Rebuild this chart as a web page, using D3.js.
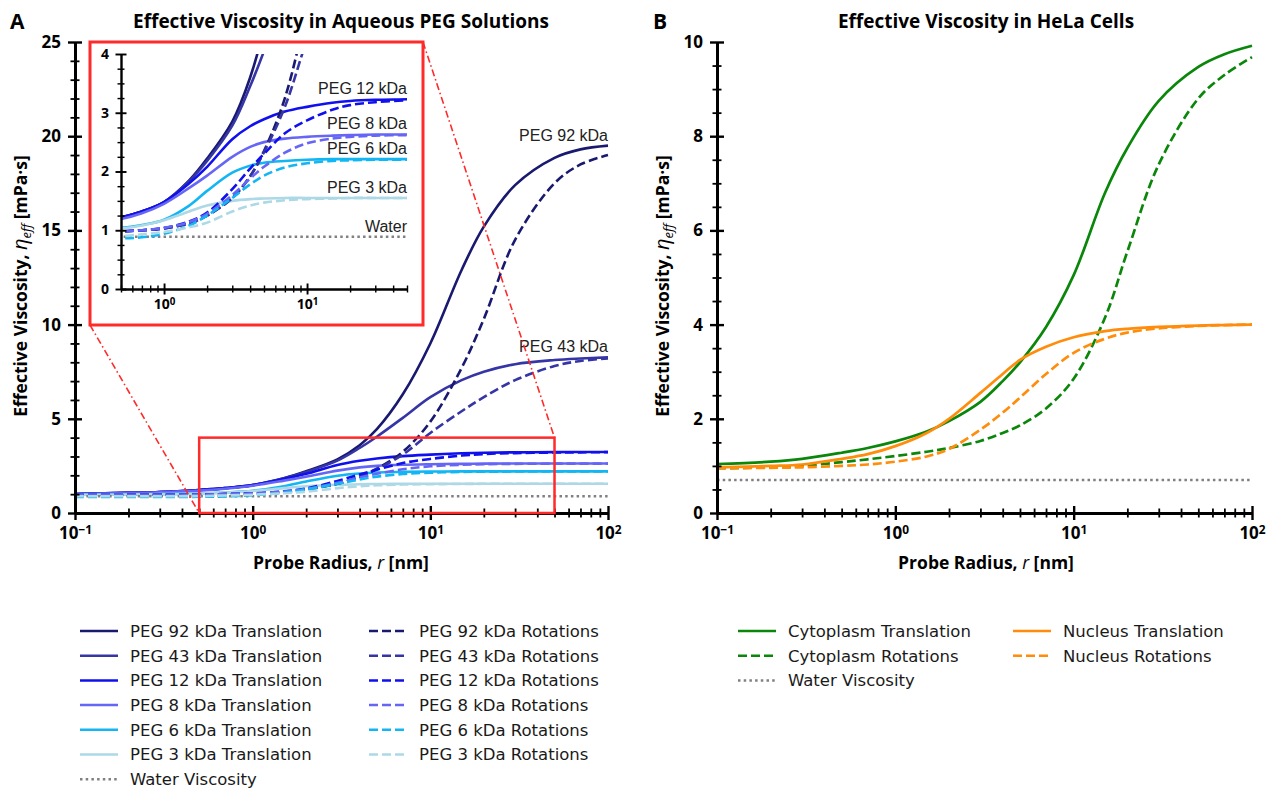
<!DOCTYPE html>
<html>
<head>
<meta charset="utf-8">
<script src="https://cdn.jsdelivr.net/npm/d3@7"></script>
<style>
  body { margin: 0; background: #fff; }
  text { font-family: "Open Sans", sans-serif; }
</style>
</head>
<body>
<svg id="chart" width="1268" height="788"></svg>
<script>
// probe radius samples [nm]
var radius = [0.1, 0.2, 0.3, 0.5, 0.7, 1, 1.5, 2, 3, 4, 5, 7, 10, 15, 20, 30, 50, 70, 100];

// PEG solutions, translation
var peg92Trans = [1.0, 1.07, 1.11, 1.22, 1.32, 1.48, 1.85, 2.22, 2.85, 3.6, 4.45, 6.3, 9.0, 12.9, 15.2, 17.4, 18.85, 19.3, 19.5];
var peg43Trans = [1.0, 1.07, 1.11, 1.22, 1.32, 1.48, 1.84, 2.18, 2.78, 3.45, 4.05, 5.05, 6.15, 7.05, 7.5, 7.9, 8.12, 8.2, 8.26];
var peg12Trans = [1.0, 1.07, 1.11, 1.22, 1.32, 1.48, 1.8, 2.08, 2.55, 2.77, 2.89, 3.02, 3.1, 3.17, 3.2, 3.22, 3.23, 3.24, 3.24];
var peg8Trans  = [1.0, 1.06, 1.1, 1.19, 1.29, 1.45, 1.72, 1.93, 2.25, 2.42, 2.5, 2.56, 2.59, 2.61, 2.62, 2.63, 2.63, 2.63, 2.63];
var peg6Trans  = [0.97, 0.98, 1.0, 1.04, 1.09, 1.18, 1.42, 1.67, 1.98, 2.1, 2.15, 2.18, 2.2, 2.21, 2.21, 2.21, 2.21, 2.21, 2.21];
var peg3Trans  = [0.96, 0.98, 1.0, 1.03, 1.08, 1.17, 1.32, 1.42, 1.5, 1.53, 1.54, 1.55, 1.55, 1.55, 1.55, 1.55, 1.55, 1.55, 1.55];

// PEG solutions, rotations
var peg92Rot = [0.95, 0.96, 0.97, 0.98, 1.0, 1.03, 1.12, 1.25, 1.55, 1.92, 2.35, 3.25, 4.85, 7.7, 10.3, 14.5, 17.5, 18.5, 19.0];
var peg43Rot = [0.95, 0.96, 0.97, 0.98, 1.0, 1.03, 1.12, 1.25, 1.55, 1.92, 2.33, 3.1, 4.25, 5.4, 6.15, 7.05, 7.8, 8.07, 8.2];
var peg12Rot = [0.95, 0.96, 0.97, 0.98, 1.0, 1.04, 1.15, 1.3, 1.7, 2.05, 2.3, 2.65, 2.87, 3.05, 3.13, 3.18, 3.21, 3.22, 3.23];
var peg8Rot  = [0.95, 0.96, 0.97, 0.98, 1.0, 1.04, 1.14, 1.28, 1.6, 1.88, 2.08, 2.32, 2.48, 2.56, 2.59, 2.61, 2.62, 2.62, 2.62];
var peg6Rot  = [0.85, 0.85, 0.85, 0.86, 0.88, 0.94, 1.08, 1.25, 1.55, 1.78, 1.93, 2.07, 2.14, 2.18, 2.19, 2.2, 2.2, 2.21, 2.21];
var peg3Rot  = [0.89, 0.89, 0.89, 0.9, 0.93, 0.97, 1.05, 1.13, 1.32, 1.42, 1.47, 1.51, 1.53, 1.54, 1.55, 1.55, 1.55, 1.55, 1.55];

// HeLa cells
var cytoTrans = [1.04, 1.09, 1.15, 1.28, 1.38, 1.52, 1.73, 1.95, 2.36, 2.8, 3.2, 3.95, 5.05, 6.8, 7.75, 8.75, 9.47, 9.74, 9.92];
var cytoRot   = [0.95, 0.97, 1.0, 1.08, 1.14, 1.21, 1.3, 1.38, 1.53, 1.7, 1.86, 2.22, 2.85, 4.15, 5.55, 7.4, 8.8, 9.3, 9.68];
var nucTrans  = [0.97, 1.0, 1.03, 1.15, 1.25, 1.42, 1.7, 2.0, 2.55, 2.95, 3.25, 3.53, 3.73, 3.86, 3.91, 3.95, 3.98, 3.99, 4.0];
var nucRot    = [0.95, 0.96, 0.97, 1.0, 1.03, 1.09, 1.2, 1.36, 1.77, 2.13, 2.45, 2.95, 3.4, 3.7, 3.83, 3.92, 3.97, 3.99, 4.0];

var waterPEG = 0.89;
var waterCell = 0.7;

var pegNames = ["PEG 92 kDa", "PEG 43 kDa", "PEG 12 kDa", "PEG 8 kDa", "PEG 6 kDa", "PEG 3 kDa"];
var pegColors = ["#191970", "#3535a5", "#1010ee", "#6666f6", "#12b6f2", "#add8e6"];
var pegTrans = [peg92Trans, peg43Trans, peg12Trans, peg8Trans, peg6Trans, peg3Trans];
var pegRot = [peg92Rot, peg43Rot, peg12Rot, peg8Rot, peg6Rot, peg3Rot];

var green = "#0a870a";
var orange = "#ff8c0a";
var gray = "#808080";
var red = "#ff2a2a";

var svg = d3.select("#chart");

function pairs(vals) {
  return radius.map(function(r, i) { return [r, vals[i]]; });
}

function decadeLabel(sel) {
  sel.each(function(d) {
    var t = d3.select(this);
    var e = Math.round(Math.log10(d));
    t.text("10");
    t.append("tspan").attr("dy", "-0.45em").attr("font-size", "0.7em")
      .text(e < 0 ? "\u2212" + (-e) : e);
  });
}

// draws both axes for one panel
function drawAxes(g, x, y, o) {
  var ya = g.append("g").attr("transform", `translate(${x.range()[0]},0)`)
    .call(d3.axisLeft(y).tickValues(o.yMajor).tickFormat(d3.format("d"))
      .tickSizeOuter(0).tickSize(0).tickPadding(o.pad));
  ya.select(".domain").attr("stroke-width", o.lw);
  ya.selectAll(".tick line").attr("x1", -o.big).attr("x2", o.big).attr("stroke-width", o.lw * 0.8);
  ya.selectAll("text").attr("font-size", o.fs).attr("font-weight", "bold").attr("fill", "#000")
    .style("font-family", "'Open Sans', sans-serif");

  var ym = g.append("g").attr("transform", `translate(${x.range()[0]},0)`)
    .call(d3.axisLeft(y).tickValues(o.yMinor).tickSizeOuter(0).tickSize(0).tickFormat(""));
  ym.select(".domain").remove();
  ym.selectAll(".tick line").attr("x1", -o.small).attr("x2", o.small).attr("stroke-width", o.lw * 0.6);

  var xa = g.append("g").attr("transform", `translate(0,${y.range()[0]})`)
    .call(d3.axisBottom(x).tickValues(o.xMajor).tickSizeOuter(0).tickSize(0).tickPadding(o.xpad));
  xa.select(".domain").attr("stroke-width", o.lw);
  xa.selectAll(".tick line").attr("y1", -o.big).attr("y2", o.big).attr("stroke-width", o.lw * 0.8);
  xa.selectAll("text").attr("font-size", o.fs).attr("font-weight", "bold").attr("fill", "#000")
    .style("font-family", "'Open Sans', sans-serif").call(decadeLabel);

  var xm = g.append("g").attr("transform", `translate(0,${y.range()[0]})`)
    .call(d3.axisBottom(x).tickValues(o.xMinor).tickSizeOuter(0).tickSize(0).tickFormat(""));
  xm.select(".domain").remove();
  xm.selectAll(".tick line").attr("y1", -o.small).attr("y2", o.small).attr("stroke-width", o.lw * 0.6);
}

function drawSeries(g, x, y, vals, color, dash, lw) {
  var line = d3.line().x(d => x(d[0])).y(d => y(d[1])).curve(d3.curveCatmullRom.alpha(0.5));
  g.append("path").datum(pairs(vals))
    .attr("d", line).attr("fill", "none")
    .attr("stroke", color).attr("stroke-width", lw)
    .attr("stroke-dasharray", dash);
}

function drawWater(g, x, y, val, lw) {
  g.append("line")
    .attr("x1", x(radius[0])).attr("x2", x(radius[radius.length - 1]))
    .attr("y1", y(val)).attr("y2", y(val))
    .attr("stroke", gray).attr("stroke-width", lw).attr("stroke-dasharray", "2.5,3.2");
}

function axisTitles(cx, xLabelY, yLabelX, cy) {
  var xl = svg.append("text").attr("x", cx).attr("y", xLabelY).attr("text-anchor", "middle")
    .attr("font-size", 17.5).attr("font-weight", "bold");
  xl.append("tspan").text("Probe Radius, ");
  xl.append("tspan").attr("font-style", "italic").attr("font-weight", "normal").text("r");
  xl.append("tspan").text(" [nm]");

  var yl = svg.append("text").attr("transform", `translate(${yLabelX},${cy}) rotate(-90)`)
    .attr("text-anchor", "middle").attr("font-size", 17.5).attr("font-weight", "bold");
  yl.append("tspan").text("Effective Viscosity, ");
  yl.append("tspan").attr("font-style", "italic").attr("font-weight", "normal").attr("font-size", 20).text("\u03b7");
  yl.append("tspan").attr("font-style", "italic").attr("font-weight", "normal").attr("font-size", 13).attr("dy", 4).text("eff");
  yl.append("tspan").attr("dy", -4).text(" [mPa\u00b7s]");
}

function legendRow(x0, yRow, color, dash, label) {
  svg.append("line").attr("x1", x0).attr("x2", x0 + 38).attr("y1", yRow).attr("y2", yRow)
    .attr("stroke", color).attr("stroke-width", 2.5).attr("stroke-dasharray", dash);
  svg.append("text").attr("x", x0 + 50).attr("y", yRow).attr("dy", "0.36em")
    .style("font-family", "'DejaVu Sans', sans-serif").attr("font-size", 16.5).attr("fill", "#1a1a1a")
    .text(label);
}

function curveLabel(g, x, y, text) {
  g.append("text").attr("x", x).attr("y", y).attr("text-anchor", "end")
    .style("font-family", "'Liberation Sans', Arial, sans-serif").attr("font-size", 16).attr("fill", "#222").text(text);
}

var DASH = "9,4";
var DOT = "2.5,3.2";

// ---------------- Panel A ----------------
var xA = d3.scaleLog().domain([0.1, 100]).range([75, 608]);
var yA = d3.scaleLinear().domain([0, 25]).range([513, 42]);
var gA = svg.append("g");

pegTrans.forEach(function(v, i) { drawSeries(gA, xA, yA, v, pegColors[i], null, 2.6); });
drawWater(gA, xA, yA, waterPEG, 2.5);
pegRot.forEach(function(v, i) { drawSeries(gA, xA, yA, v, pegColors[i], DASH, 2.6); });

var mainAxis = {
  xMajor: [0.1, 1, 10, 100],
  xMinor: [0.2, 0.3, 0.4, 0.5, 0.6, 0.7, 0.8, 0.9, 2, 3, 4, 5, 6, 7, 8, 9, 20, 30, 40, 50, 60, 70, 80, 90],
  big: 7, small: 4.5, lw: 3, fs: 17, pad: 14, xpad: 14
};
drawAxes(gA, xA, yA, Object.assign({
  yMajor: [0, 5, 10, 15, 20, 25], yMinor: d3.range(1, 25).filter(d => d % 5 != 0)
}, mainAxis));

curveLabel(gA, xA(100), yA(peg92Trans[18]) - 5, "PEG 92 kDa");
curveLabel(gA, xA(100), yA(peg43Trans[18]) - 5, "PEG 43 kDa");

// zoom region and connectors
var box = { x: 90, y: 42, w: 333, h: 283 };
gA.append("rect").attr("x", xA(0.5)).attr("y", yA(4)).attr("width", xA(50) - xA(0.5)).attr("height", yA(0) - yA(4))
  .attr("fill", "none").attr("stroke", red).attr("stroke-width", 2.5);
gA.append("line").attr("x1", box.x).attr("y1", box.y + box.h).attr("x2", xA(0.5)).attr("y2", yA(0))
  .attr("stroke", red).attr("stroke-width", 1.6).attr("stroke-dasharray", "7,3,1.5,3");
gA.append("line").attr("x1", box.x + box.w).attr("y1", box.y).attr("x2", xA(50)).attr("y2", yA(4))
  .attr("stroke", red).attr("stroke-width", 1.6).attr("stroke-dasharray", "7,3,1.5,3");

// inset
var gI = svg.append("g");
gI.append("rect").attr("x", box.x).attr("y", box.y).attr("width", box.w).attr("height", box.h)
  .attr("fill", "#fff").attr("stroke", red).attr("stroke-width", 3);
var xI = d3.scaleLog().domain([0.5, 50]).range([121, 407]);
var yI = d3.scaleLinear().domain([0, 4]).range([289, 54]);

svg.append("clipPath").attr("id", "insetClip").append("rect")
  .attr("x", xI.range()[0]).attr("y", yI.range()[1]).attr("width", xI.range()[1] - xI.range()[0])
  .attr("height", yI.range()[0] - yI.range()[1]);
var gIC = gI.append("g").attr("clip-path", "url(#insetClip)");
pegTrans.forEach(function(v, i) { drawSeries(gIC, xI, yI, v, pegColors[i], null, 2.6); });
drawWater(gIC, xI, yI, waterPEG, 2.5);
pegRot.forEach(function(v, i) { drawSeries(gIC, xI, yI, v, pegColors[i], DASH, 2.6); });

drawAxes(gI, xI, yI, {
  yMajor: [0, 1, 2, 3, 4], yMinor: d3.range(0.25, 4, 0.25).filter(d => d % 1 != 0),
  xMajor: [1, 10],
  xMinor: [0.5, 0.6, 0.7, 0.8, 0.9, 2, 3, 4, 5, 6, 7, 8, 9, 20, 30, 40, 50],
  big: 5.5, small: 3.5, lw: 2.4, fs: 14, pad: 12, xpad: 10
});

var insetLabels = [["PEG 12 kDa", peg12Trans], ["PEG 8 kDa", peg8Trans], ["PEG 6 kDa", peg6Trans], ["PEG 3 kDa", peg3Trans]];
insetLabels.forEach(function(l) {
  curveLabel(gI, xI(50), yI(l[1][18]) - 5, l[0]);
});
curveLabel(gI, xI(50), yI(waterPEG) - 5, "Water");

svg.append("text").attr("x", 10).attr("y", 29).attr("font-size", 21).attr("font-weight", "bold").text("A");
svg.append("text").attr("x", 341).attr("y", 28).attr("text-anchor", "middle").attr("font-size", 19)
  .attr("font-weight", "bold").text("Effective Viscosity in Aqueous PEG Solutions");
axisTitles(341, 569, 27, 286);

// ---------------- Panel B ----------------
var xB = d3.scaleLog().domain([0.1, 100]).range([717, 1252]);
var yB = d3.scaleLinear().domain([0, 10]).range([513, 42]);
var gB = svg.append("g");

drawSeries(gB, xB, yB, cytoTrans, green, null, 2.7);
drawSeries(gB, xB, yB, cytoRot, green, DASH, 2.7);
drawWater(gB, xB, yB, waterCell, 2.5);
drawSeries(gB, xB, yB, nucTrans, orange, null, 2.7);
drawSeries(gB, xB, yB, nucRot, orange, DASH, 2.7);

drawAxes(gB, xB, yB, Object.assign({
  yMajor: [0, 2, 4, 6, 8, 10], yMinor: d3.range(0.5, 10, 0.5).filter(d => d % 2 != 0)
}, mainAxis));

svg.append("text").attr("x", 653).attr("y", 29).attr("font-size", 21).attr("font-weight", "bold").text("B");
svg.append("text").attr("x", 986).attr("y", 28).attr("text-anchor", "middle").attr("font-size", 19)
  .attr("font-weight", "bold").text("Effective Viscosity in HeLa Cells");
axisTitles(986, 569, 669, 286);

// ---------------- Legends ----------------
var rowH = 24.7;
pegNames.forEach(function(n, i) {
  legendRow(80, 631 + i * rowH, pegColors[i], null, n + " Translation");
  legendRow(369, 631 + i * rowH, pegColors[i], DASH, n + " Rotations");
});
legendRow(80, 631 + 6 * rowH, gray, DOT, "Water Viscosity");

legendRow(738, 631, green, null, "Cytoplasm Translation");
legendRow(738, 631 + rowH, green, DASH, "Cytoplasm Rotations");
legendRow(738, 631 + 2 * rowH, gray, DOT, "Water Viscosity");
legendRow(1013, 631, orange, null, "Nucleus Translation");
legendRow(1013, 631 + rowH, orange, DASH, "Nucleus Rotations");
</script>
</body>
</html>
